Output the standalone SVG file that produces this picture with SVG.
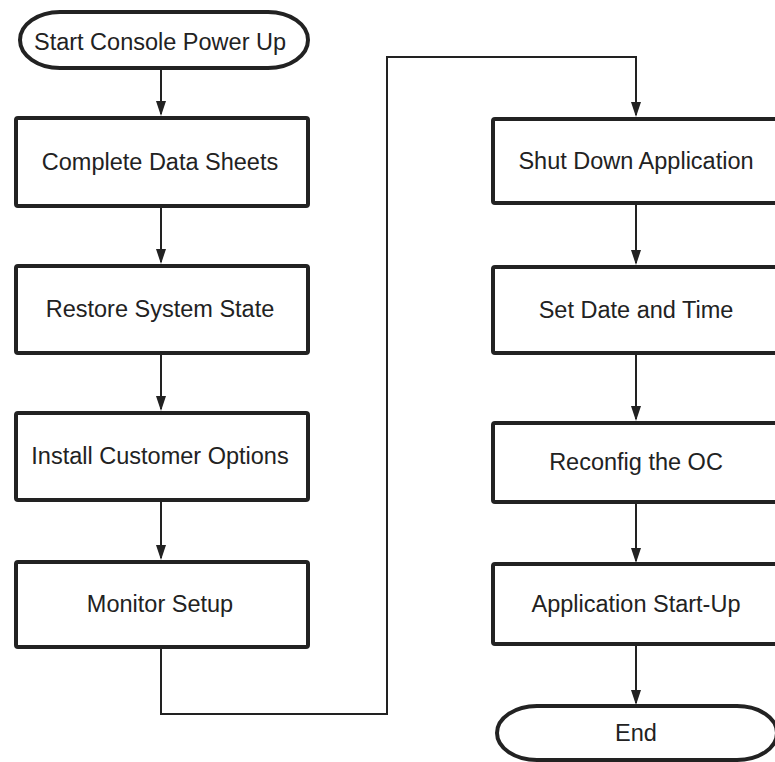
<svg xmlns="http://www.w3.org/2000/svg" width="775" height="762" viewBox="0 0 775 762">
<style>
.box{fill:#fff;stroke:#222;stroke-width:4;stroke-linejoin:round}
.lbl{font-family:"Liberation Sans",Arial,sans-serif;font-size:23.5px;fill:#222;text-anchor:middle}
.con{fill:none;stroke:#222;stroke-width:2}
</style>
<defs>
<marker id="ah" markerWidth="10" markerHeight="16" refX="5" refY="15" orient="auto-start-reverse" markerUnits="userSpaceOnUse" viewBox="0 0 10 16">
<path d="M0,0 L10,0 L5,15 Z" fill="#222" transform="rotate(0)"/>
</marker>
</defs>
<rect width="775" height="762" fill="#fff"/>
<g id="connectors">
<path class="con" d="M161,68 V114"/>
<path class="con" d="M161,207 V262"/>
<path class="con" d="M161,354 V409"/>
<path class="con" d="M161,501 V558"/>
<path class="con" d="M161,648 V714 H387 V57 H636 V115"/>
<path class="con" d="M636,204 V263"/>
<path class="con" d="M636,354 V419"/>
<path class="con" d="M636,503 V561"/>
<path class="con" d="M636,645 V703"/>
<g fill="#222">
<path d="M156,101 L166,101 L161,116 Z"/>
<path d="M156,249 L166,249 L161,264 Z"/>
<path d="M156,396 L166,396 L161,411 Z"/>
<path d="M156,545 L166,545 L161,560 Z"/>
<path d="M631,102 L641,102 L636,117 Z"/>
<path d="M631,250 L641,250 L636,265 Z"/>
<path d="M631,406 L641,406 L636,421 Z"/>
<path d="M631,548 L641,548 L636,563 Z"/>
<path d="M631,690 L641,690 L636,705 Z"/>
</g>
</g>
<g id="start">
<rect class="box" x="20" y="12" width="288" height="56" rx="40" ry="28"/>
<text class="lbl" x="160" y="50">Start Console Power Up</text>
</g>
<g id="complete">
<rect class="box" x="16" y="118" width="292" height="88" rx="2"/>
<text class="lbl" x="160" y="170">Complete Data Sheets</text>
</g>
<g id="restore">
<rect class="box" x="16" y="266" width="292" height="87" rx="2"/>
<text class="lbl" x="160" y="317">Restore System State</text>
</g>
<g id="install">
<rect class="box" x="16" y="413" width="292" height="87" rx="2"/>
<text class="lbl" x="160" y="464">Install Customer Options</text>
</g>
<g id="monitor">
<rect class="box" x="16" y="562" width="292" height="85" rx="2"/>
<text class="lbl" x="160" y="612">Monitor Setup</text>
</g>
<g id="shutdown">
<rect class="box" x="493" y="119" width="292" height="84" rx="2"/>
<text class="lbl" x="636" y="169">Shut Down Application</text>
</g>
<g id="setdate">
<rect class="box" x="493" y="267" width="292" height="86" rx="2"/>
<text class="lbl" x="636" y="318">Set Date and Time</text>
</g>
<g id="reconfig">
<rect class="box" x="493" y="423" width="292" height="79" rx="2"/>
<text class="lbl" x="636" y="470">Reconfig the OC</text>
</g>
<g id="appstart">
<rect class="box" x="493" y="564" width="292" height="80" rx="2"/>
<text class="lbl" x="636" y="612">Application Start-Up</text>
</g>
<g id="end">
<rect class="box" x="497" y="706" width="280" height="54" rx="40" ry="27"/>
<text class="lbl" x="636" y="741">End</text>
</g>
</svg>
